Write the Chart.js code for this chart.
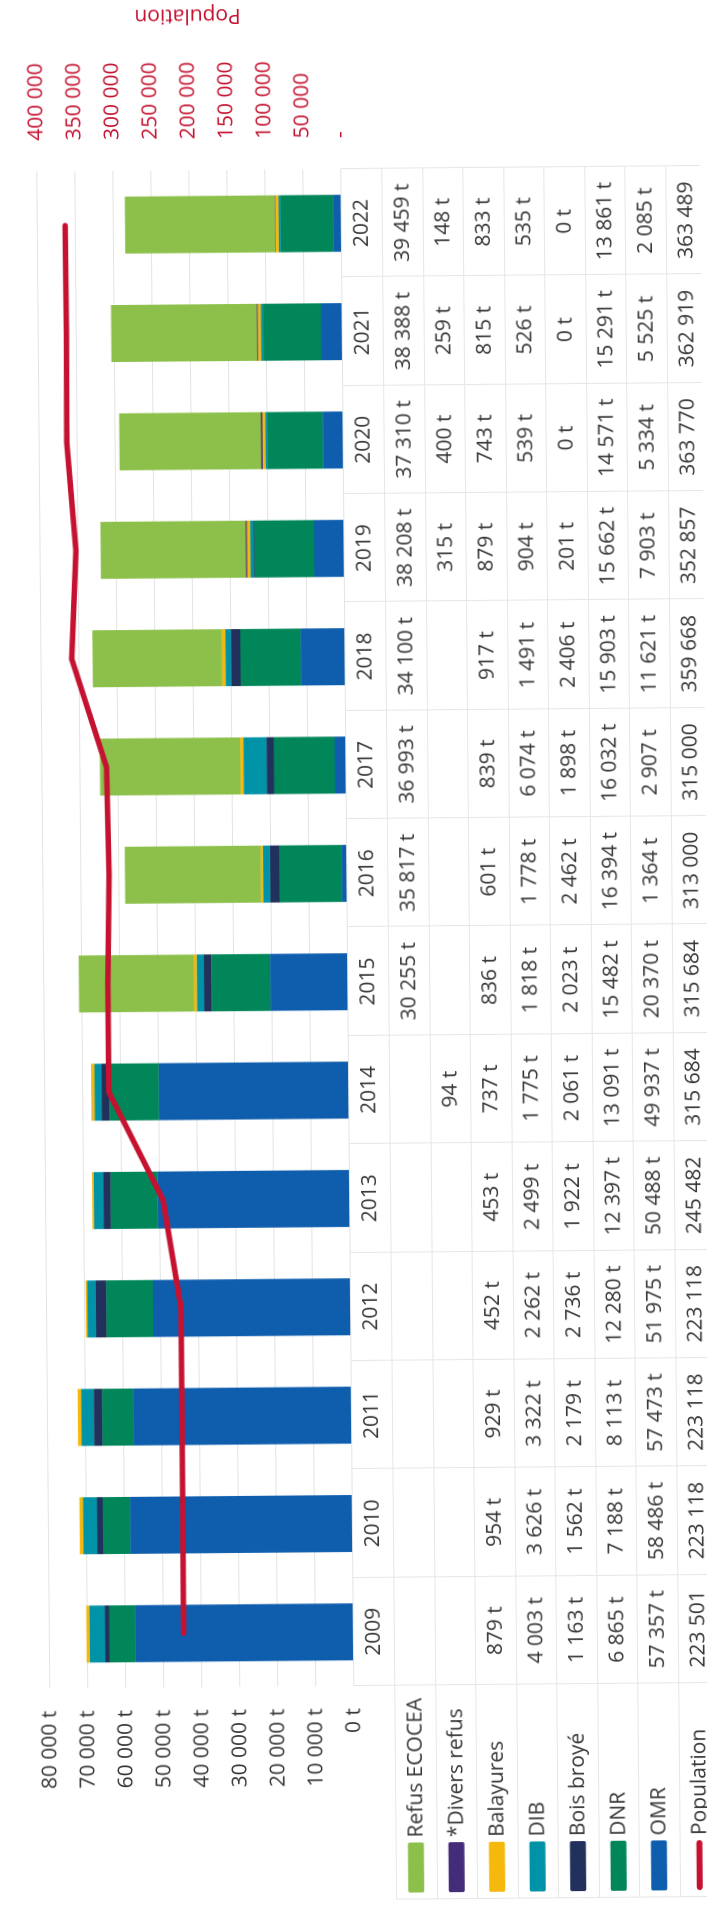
<!DOCTYPE html>
<html>
<head>
<meta charset="utf-8">
<script src="https://cdn.jsdelivr.net/npm/chart.js"></script>
<style>
  html, body { margin: 0; padding: 0; width: 707px; height: 1905px; overflow: hidden; background: #ffffff; }
  #wrap { position: absolute; left: -599px; top: 599px; width: 1905px; height: 707px;
          transform-origin: 952.5px 353.5px; transform: rotate(-90.49deg); background: #ffffff; }
</style>
</head>
<body>
<div id="wrap"><canvas id="c" width="1905" height="707"></canvas></div>
<script>
// ---- data ----
const categories = ['2009','2010','2011','2012','2013','2014','2015','2016','2017','2018','2019','2020','2021','2022'];
const refusEcocea = [null, null, null, null, null, null, 30255, 35817, 36993, 34100, 38208, 37310, 38388, 39459];
const diversRefus = [null, null, null, null, null, 94, null, null, null, null, 315, 400, 259, 148];
const balayures   = [879, 954, 929, 452, 453, 737, 836, 601, 839, 917, 879, 743, 815, 833];
const dib         = [4003, 3626, 3322, 2262, 2499, 1775, 1818, 1778, 6074, 1491, 904, 539, 526, 535];
const boisBroye   = [1163, 1562, 2179, 2736, 1922, 2061, 2023, 2462, 1898, 2406, 201, 0, 0, 0];
const dnr         = [6865, 7188, 8113, 12280, 12397, 13091, 15482, 16394, 16032, 15903, 15662, 14571, 15291, 13861];
const omr         = [57357, 58486, 57473, 51975, 50488, 49937, 20370, 1364, 2907, 11621, 7903, 5334, 5525, 2085];
const population  = [223501, 223118, 223118, 223118, 245482, 315684, 315684, 313000, 315000, 359668, 352857, 363770, 362919, 363489];
const tonnageTicks = [0, 10000, 20000, 30000, 40000, 50000, 60000, 70000, 80000];
const populationTicks = [0, 50000, 100000, 150000, 200000, 250000, 300000, 350000, 400000];
const populationTitle = 'Population';

const seriesNames = ['Refus ECOCEA', '*Divers refus', 'Balayures', 'DIB', 'Bois broyé', 'DNR', 'OMR', 'Population'];
const seriesData  = [refusEcocea, diversRefus, balayures, dib, boisBroye, dnr, omr, population];
const seriesColors = ['#8CC04A', '#442C7B', '#F5B80C', '#0093A8', '#21315B', '#008659', '#0F5EAD', '#C41230'];

// ---- styles ----
const FONT = "'Open Sans', sans-serif";
const TXT = '#353535';
const RED = '#C41230';

function fmt(n) { return String(n).replace(/\B(?=(\d{3})+(?!\d))/g, ' '); }

const tablePlugin = {
  id: 'dataTable',
  afterDraw(chart) {
    const { ctx, chartArea } = chart;
    const x = chart.scales.x;
    const y1 = chart.scales.y1;
    const rowH = 40.5;
    const top = chartArea.bottom;
    const n = categories.length;
    const colW = (chartArea.right - chartArea.left) / n;
    const H = chart.height;
    ctx.save();
    ctx.strokeStyle = '#e6e6e6';
    ctx.lineWidth = 1;
    ctx.beginPath();
    for (let r = 1; r <= 9; r++) {
      const v = Math.round(top + r * rowH) + 0.5;
      ctx.moveTo(5, v); ctx.lineTo(chartArea.right, v);
    }
    for (let k = 0; k <= n; k++) {
      const u = Math.round(chartArea.left + k * colW) + 0.5;
      ctx.moveTo(u, top); ctx.lineTo(u, H);
    }
    ctx.moveTo(5.5, top + rowH); ctx.lineTo(5.5, H);
    ctx.stroke();

    ctx.font = '21px ' + FONT;
    ctx.textBaseline = 'middle';
    for (let r = 0; r < seriesNames.length; r++) {
      const vc = top + (r + 1) * rowH + rowH / 2;
      // legend key
      ctx.fillStyle = seriesColors[r];
      if (r === seriesNames.length - 1) {
        ctx.beginPath();
        ctx.roundRect(12, vc - 3, 50, 6, 3);
        ctx.fill();
      } else {
        ctx.beginPath();
        ctx.roundRect(12, vc - 8, 50, 16, 2);
        ctx.fill();
      }
      ctx.fillStyle = TXT;
      ctx.textAlign = 'left';
      ctx.fillText(seriesNames[r], 67, vc + 1);
      // values
      ctx.textAlign = 'center';
      const arr = seriesData[r];
      const unit = r === seriesNames.length - 1 ? '' : ' t';
      for (let i = 0; i < n; i++) {
        if (arr[i] === null || arr[i] === undefined) continue;
        ctx.fillText(fmt(arr[i]) + unit, x.getPixelForValue(i), vc + 1);
      }
    }
    // secondary axis title (rotated like the original: reading bottom to top)
    ctx.translate(y1.right - 14, (chartArea.top + chartArea.bottom) / 2);
    ctx.rotate(-Math.PI / 2);
    ctx.textAlign = 'center';
    ctx.textBaseline = 'middle';
    ctx.fillStyle = RED;
    ctx.fillText(populationTitle, 0, 0);
    ctx.restore();
  }
};

const barDefaults = { type: 'bar', yAxisID: 'y', stack: 's', order: 1, borderWidth: 0,
                      categoryPercentage: 1, barPercentage: 0.526 };

new Chart(document.getElementById('c'), {
  data: {
    labels: categories,
    datasets: [
      { label: 'Population', type: 'line', data: population, yAxisID: 'y1', order: 0,
        borderColor: RED, backgroundColor: RED, borderWidth: 5.5, pointRadius: 0, tension: 0,
        borderCapStyle: 'round', borderJoinStyle: 'round', fill: false },
      Object.assign({}, barDefaults, { label: 'OMR', data: omr, backgroundColor: seriesColors[6] }),
      Object.assign({}, barDefaults, { label: 'DNR', data: dnr, backgroundColor: seriesColors[5] }),
      Object.assign({}, barDefaults, { label: 'Bois broyé', data: boisBroye, backgroundColor: seriesColors[4] }),
      Object.assign({}, barDefaults, { label: 'DIB', data: dib, backgroundColor: seriesColors[3] }),
      Object.assign({}, barDefaults, { label: 'Balayures', data: balayures, backgroundColor: seriesColors[2] }),
      Object.assign({}, barDefaults, { label: '*Divers refus', data: diversRefus, backgroundColor: seriesColors[1] }),
      Object.assign({}, barDefaults, { label: 'Refus ECOCEA', data: refusEcocea, backgroundColor: seriesColors[0] })
    ]
  },
  options: {
    responsive: false,
    devicePixelRatio: 2,
    animation: false,
    layout: { padding: { top: 26, bottom: 0, left: 0, right: 0 } },
    plugins: { legend: { display: false }, tooltip: { enabled: false } },
    scales: {
      x: {
        stacked: true,
        grid: { display: false, drawTicks: false },
        border: { display: false },
        ticks: { color: TXT, font: { family: FONT, size: 21 }, padding: 8, maxRotation: 0, autoSkip: false },
        afterFit(s) { s.height = 707 - 347.5; }
      },
      y: {
        position: 'left', stacked: true, min: 0, max: 80000,
        grid: { color: '#e3e3e3', drawTicks: false },
        border: { display: false },
        afterBuildTicks(s) { s.ticks = tonnageTicks.map(v => ({ value: v })); },
        ticks: { color: TXT, font: { family: FONT, size: 21 }, padding: 22,
                 callback: v => fmt(v) + ' t' },
        afterFit(s) { s.width = 219; }
      },
      y1: {
        position: 'right', min: 0, max: 400000,
        grid: { display: false, drawTicks: false },
        border: { display: false },
        afterBuildTicks(s) { s.ticks = populationTicks.map(v => ({ value: v })); },
        ticks: { color: RED, font: { family: FONT, size: 21 }, padding: 31,
                 callback: v => v === 0 ? '-' : fmt(v) },
        title: { display: false },
        afterFit(s) { s.width = 169; }
      }
    }
  },
  plugins: [tablePlugin]
});
</script>
</body>
</html>
